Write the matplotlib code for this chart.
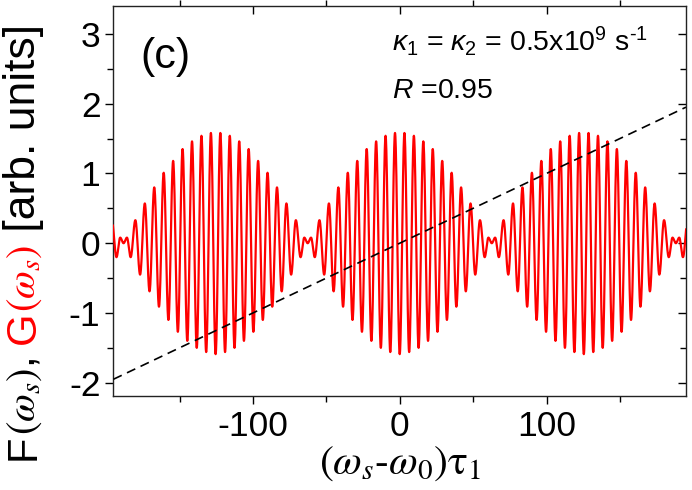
import numpy as np
import matplotlib
matplotlib.use("Agg")
import matplotlib.pyplot as plt

# ---------------- data ----------------
# fast-oscillation half period (distance between neighbouring extrema)
half_period = 3.215
# lobe centres (central extremum is a trough); -250.8/250.8 only enter at the edges
lobe_centers = [-250.8, -125.4, 0.0, 125.4, 250.8]
# extremum values of one lobe, from the centre outward (k = 0..18)
lobe_extrema = [-1.59, 1.58, -1.56, 1.54, -1.50, 1.46, -1.40, 1.35, -1.27,
                1.18, -1.10, 1.01, -0.91, 0.80, -0.69, 0.57, -0.45, 0.33, -0.20]
# small wiggle between lobes: offsets from the gap centre and values
gap_offsets = [-2.3, 0.0, 2.3]
gap_values = [0.08, 0.0, 0.08]
# dashed reference line (end points)
dash_x = [-195.0, 195.0]
dash_y = [-1.95, 1.95]

x_ticks = [-100, 0, 100]
y_ticks = [-2, -1, 0, 1, 2, 3]

# ---------------- assemble the extrema sequence ----------------
ext_x, ext_y = [], []
for c in lobe_centers:
    for k in range(-18, 19):
        ext_x.append(c + k * half_period)
        ext_y.append(lobe_extrema[abs(k)])
for a, b in zip(lobe_centers[:-1], lobe_centers[1:]):
    g = 0.5 * (a + b)
    for o, v in zip(gap_offsets, gap_values):
        ext_x.append(g + o)
        ext_y.append(v)
order = np.argsort(ext_x)
ext_x = np.asarray(ext_x)[order]
ext_y = np.asarray(ext_y)[order]

# smooth rendering between consecutive extrema (half-cosine segments)
cx, cy = [], []
t = np.linspace(0, 1, 24, endpoint=False)
for i in range(len(ext_x) - 1):
    x0, x1 = ext_x[i], ext_x[i + 1]
    y0, y1 = ext_y[i], ext_y[i + 1]
    cx.append(x0 + (x1 - x0) * t)
    cy.append(0.5 * (y0 + y1) + 0.5 * (y0 - y1) * np.cos(np.pi * t))
cx = np.concatenate(cx)
cy = np.concatenate(cy)

# ---------------- figure ----------------
plt.rcParams['font.family'] = ['Liberation Sans', 'DejaVu Sans']
plt.rcParams['mathtext.fontset'] = 'custom'
plt.rcParams['mathtext.rm'] = 'Liberation Sans'
plt.rcParams['mathtext.it'] = 'Liberation Sans:italic'
plt.rcParams['mathtext.bf'] = 'Liberation Sans:bold'

fig = plt.figure(figsize=(6.92, 4.90), dpi=100)
L, R, T, B = 113, 686, 6, 396
ax = fig.add_axes([L / 692, (490 - B) / 490, (R - L) / 692, (B - T) / 490])

ax.plot(cx, cy, color='#ff0000', lw=1.6, zorder=3)
ax.plot(dash_x, dash_y, color='black', lw=1.2, ls=(0, (5.5, 3.5)), zorder=4)

ax.set_xlim(-195.3, 195.0)
ax.set_ylim(-2.19, 3.40)
ax.set_xticks(x_ticks)
ax.set_yticks(y_ticks)
ax.set_xticks([-150, -50, 50, 150], minor=True)
ax.set_yticks([-1.5, -0.5, 0.5, 1.5, 2.5], minor=True)

for s in ax.spines.values():
    s.set_linewidth(1.0)
    s.set_color('#222222')

ax.tick_params(axis='both', which='major', labelsize=25.5, length=6, width=1.0,
               direction='out', pad=3, colors='black')
ax.tick_params(axis='x', which='major', pad=4)
ax.tick_params(axis='both', which='minor', length=4, width=1.0, direction='out')
# right side: inward ticks; top side: major inward, minor outward
ax.tick_params(axis='y', which='both', right=True, labelright=False)
ax.tick_params(axis='x', which='both', top=True, labeltop=False)
for tk in ax.yaxis.get_major_ticks() + ax.yaxis.get_minor_ticks():
    tk.tick2line.set_marker(matplotlib.lines.TICKLEFT)
for tk in ax.xaxis.get_major_ticks():
    tk.tick2line.set_marker(matplotlib.lines.TICKDOWN)

ax.set_xticklabels([str(v) for v in x_ticks])
ax.set_yticklabels([str(v) for v in y_ticks])

# panel label and annotations
ax.text(0.047, 0.841, '(c)', transform=ax.transAxes, fontsize=31,
        ha='left', va='baseline')
ax.text(0.487, 0.885, '$\\kappa_1$ = $\\kappa_2$ = 0.5x10$^9$ s$^{\u2010 1}$'.replace('\u2010 ', '\u2010'),
        transform=ax.transAxes, fontsize=20.5, ha='left', va='baseline')
ax.text(0.487, 0.765, r'$R$ =0.95', transform=ax.transAxes, fontsize=20.5,
        ha='left', va='baseline')

# x label
fig.text(400 / 692, 1 - 474 / 490, r'$(\omega_s$-$\omega_{\mathit{0}})\mathrm{\tau}_1$',
         fontsize=30, ha='center', va='baseline', family='STIXGeneral',
         math_fontfamily='stix')

# y label made of pieces with different colours
pieces = [
    ('F', 'black', 'Liberation Sans', 30),
    (r'$(\omega_s)$', 'black', 'STIXGeneral', 29),
    (', ', 'black', 'Liberation Sans', 30),
    ('G', '#ff0000', 'Liberation Sans', 30),
    (r'$(\omega_s)$', '#ff0000', 'STIXGeneral', 29),
    (' [arb. units]', 'black', 'Liberation Sans', 32),
]
fig.canvas.draw()
renderer = fig.canvas.get_renderer()
base_x = 34.5   # baseline pixel column
ypos = 490 - 460.0  # start (bottom) in display pixels from the bottom
for txt, col, fam, fs in pieces:
    t_ = fig.text(base_x / 692, ypos / 490, txt, color=col, family=fam,
                  fontsize=fs, rotation=90, rotation_mode='anchor',
                  ha='left', va='baseline', math_fontfamily='stix')
    bb = t_.get_window_extent(renderer)
    ypos += bb.height

fig.savefig('out.png', dpi=100)
